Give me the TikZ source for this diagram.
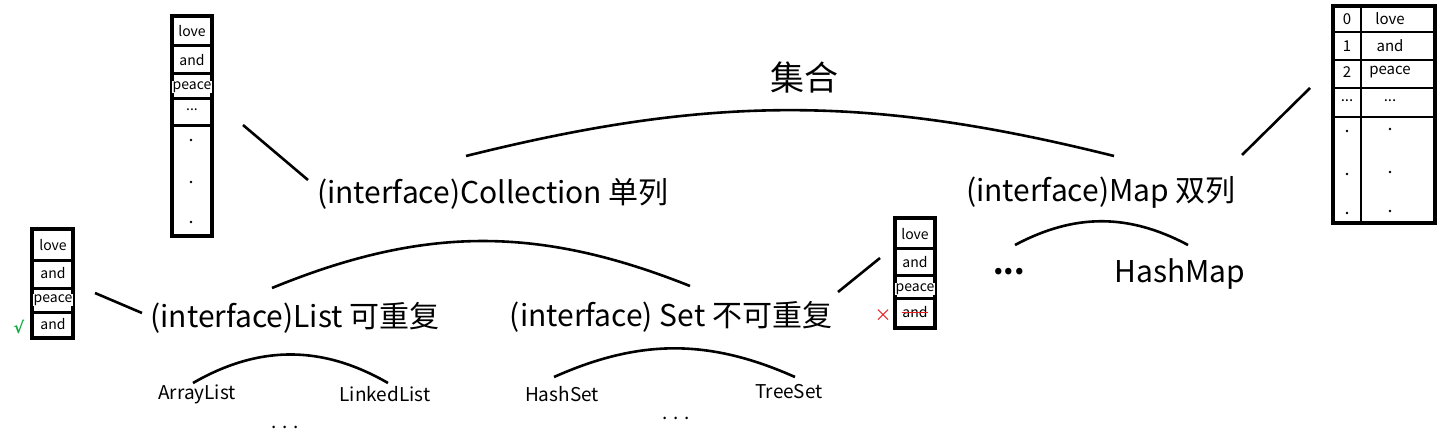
\documentclass[tikz,border=0pt]{standalone}
\usepackage{fontspec}
\setmainfont{Noto Sans CJK SC}
\newfontfamily\symfont{DejaVu Sans}
\usepackage{tikz}

\definecolor{okgreen}{RGB}{20,170,70}
\definecolor{nored}{RGB}{230,30,30}
\newcommand{\ellip}{...}

\tikzset{
  big/.style={font=\fontsize{30}{32}\selectfont, inner sep=0pt},
  small/.style={font=\fontsize{19}{21}\selectfont, inner sep=0pt},
  cell/.style={font=\fontsize{14}{15}\selectfont, inner sep=0.6pt, fill=white},
  mapcell/.style={font=\fontsize{15}{16}\selectfont, inner sep=0pt},
  arc/.style={line width=2.6pt},
  link/.style={line width=2.6pt},
  box/.style={line width=3.6pt},
  sep/.style={line width=3pt},
  thin/.style={line width=1.5pt}
}

\begin{document}
\begin{tikzpicture}[x=1pt,y=-1pt]

  \useasboundingbox (0,0) rectangle (1452,444);

  % labels
  \node[font=\fontsize{34}{36}\selectfont, inner sep=0pt] (top) at (804,78) {集合};
  \node[big] (coll) at (493,194) {(interface)Collection 单列};
  \node[big] (map)  at (1101,192) {(interface)Map 双列};
  \node[big] (list) at (295,318) {(interface)List 可重复};
  \node[big] (set)  at (671,317) {(interface) Set 不可重复};
  \node[big] (hmap) at (1180,274) {HashMap};
  \node[big] (mdots) at (1009,272) {\textbf{...}};

  \node[small] (alist) at (197,394) {ArrayList};
  \node[small] (llist) at (385,394) {LinkedList};
  \node[small] (hset)  at (562,394) {HashSet};
  \node[small] (tset)  at (789,392) {TreeSet};
  \node[small] (ldots) at (285,427) {. . .};
  \node[small] (sdots) at (676,418) {. . .};

  % arcs
  \coordinate (t1) at (466,156);
  \coordinate (t2) at (1114,156);
  \coordinate (u1) at (272,288);
  \coordinate (u2) at (690,286);
  \coordinate (m1) at (1015,245);
  \coordinate (m2) at (1188,245);
  \coordinate (a1) at (193,383);
  \coordinate (a2) at (388,383);
  \coordinate (h1) at (554,377);
  \coordinate (h2) at (795,377);

  \draw[arc] (t1) to[bend left=14] (t2);
  \draw[arc] (u1) to[bend left=22] (u2);
  \draw[arc] (m1) to[bend left=28] (m2);
  \draw[arc] (a1) to[bend left=30] (a2);
  \draw[arc] (h1) to[bend left=24] (h2);

  % links to the arrays
  \coordinate (k1) at (243,125);
  \coordinate (k2) at (308,180);
  \coordinate (k3) at (1242,155);
  \coordinate (k4) at (1310,88);
  \coordinate (k5) at (95,293);
  \coordinate (k6) at (142,313);
  \coordinate (k7) at (838,292);
  \coordinate (k8) at (880,258);

  \draw[link] (k1) -- (k2);
  \draw[link] (k3) -- (k4);
  \draw[link] (k5) -- (k6);
  \draw[link] (k7) -- (k8);

  % collection array
  \draw[box] (172,16) rectangle (212,236);
  \foreach \y in {46,74,99,125} {
     \draw[sep] (172,\y) -- (212,\y);
  }
  \foreach \t/\y [count=\i] in {love/31,and/60,peace/87,\ellip/110} {
     \node[cell] (ca\i) at (192,\y) {\t};
  }
  \foreach \y in {140,182,222} {
     \fill (191,\y) circle (1.4pt);
  }

  % list array
  \draw[box] (32,229) rectangle (73,338);
  \foreach \y in {260,288,312} {
     \draw[sep] (32,\y) -- (73,\y);
  }
  \foreach \t/\y [count=\i] in {love/245,and/273,peace/300,and/324} {
     \node[cell] (la\i) at (53,\y) {\t};
  }
  \node[font=\symfont\bfseries\fontsize{16}{18}\selectfont, text=okgreen, inner sep=0pt] (ok) at (19,327) {√};

  % set array
  \draw[box] (895,218) rectangle (935,328);
  \foreach \y in {248,275,298} {
     \draw[sep] (895,\y) -- (935,\y);
  }
  \foreach \t/\y [count=\i] in {love/234,and/262,peace/289,and/312} {
     \node[cell] (sa\i) at (915,\y) {\t};
  }
  \draw[nored, line width=1pt] (sa4.west) -- (sa4.east);
  \node[font=\fontsize{17}{18}\selectfont, text=nored, inner sep=0pt] (no) at (883,316) {×};

  % map table
  \draw[thin] (1361,6) -- (1361,223);
  \foreach \y in {32,60,88,117} {
     \draw[thin] (1333,\y) -- (1435,\y);
  }
  \draw[box] (1333,6) rectangle (1435,223);
  \foreach \k/\v/\y [count=\i] in {0/love/19,1/and/46,2/peace/72,\ellip/\ellip/101} {
     \node[mapcell] (mk\i) at (1347,\y) {\k};
     \node[mapcell] (mv\i) at (1390,\y) {\v};
  }
  \foreach \y in {131,174,213} {
     \fill (1347,\y) circle (1.4pt);
     \fill (1390,\y-2) circle (1.4pt);
  }

\end{tikzpicture}
\end{document}
